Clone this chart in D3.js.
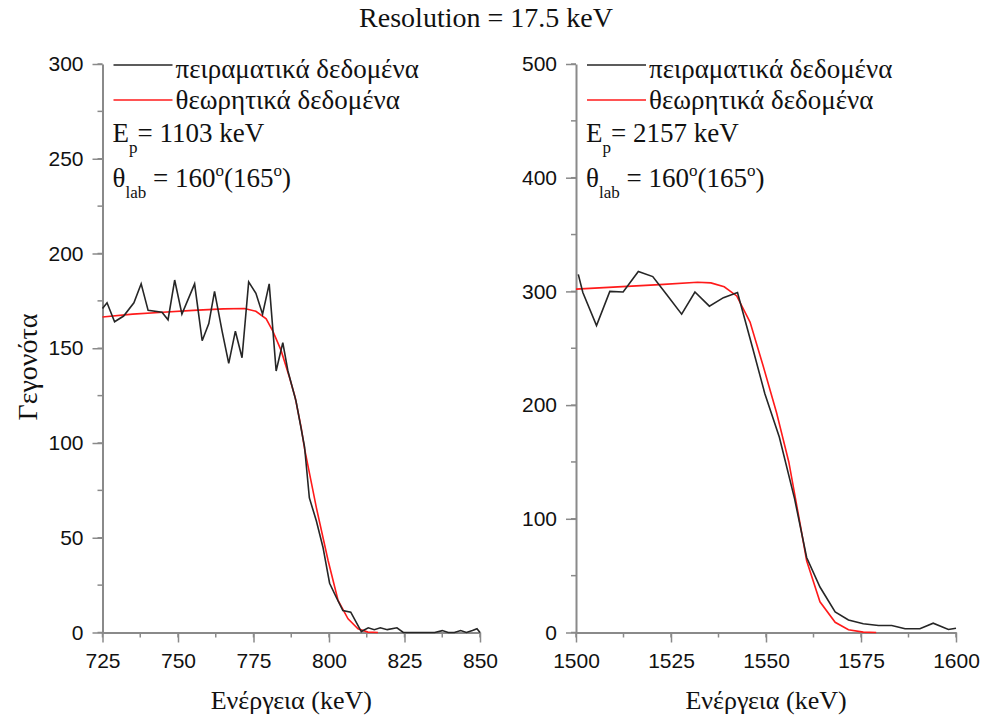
<!DOCTYPE html>
<html><head><meta charset="utf-8">
<script src="https://cdn.jsdelivr.net/npm/d3@7"></script>
<style>
body{margin:0;background:#fff;}
</style></head>
<body><svg id="c" width="983" height="720"></svg>
<script>
// ---- Left panel (Ep = 1103 keV) ----
const leftExpE = [725,726.5,729,732,735.4,737.8,740.1,744.7,746.7,748.9,751.3,755.5,758,760.2,762.1,764.6,766.8,769,771.2,773.4,775.8,778,780.2,782.5,784.7,786.4,789.1,791.9,793.5,795.8,798,800.2,802.4,804.6,807.2,810.7,813,815,817,819.3,822.5,824.6,826.8,829,831,835,837.5,839.5,841.5,843.6,845.5,847.5,849,850];
const leftExpC = [171,174,164,167,174,184,170,169,165,186,168,184,154,163,180,159,142,159,145,185,179,168,184,138,153,138,122,98,71,59,45,26,18.6,11.6,10.7,0.5,2.5,1.5,2.5,1.5,2.5,0,0,0,0,0,1,0,0,1,0,1,2,0];
const leftThE = [725,735,745,755,765,772,775.8,779.2,781.4,784.1,786.9,788.8,790.8,791.9,795.8,799.7,803,806.3,809.6,812.9,816.2];
const leftThC = [166.5,168,169,170,170.8,171,169.5,165.5,159,149,134.7,124,108,97,66,38,16.9,7.2,2,0.2,0];
const leftXTicks = [725,750,775,800,825,850];
const leftYTicks = [0,50,100,150,200,250,300];

// ---- Right panel (Ep = 2157 keV) ----
const rightExpE = [1500.6,1501.8,1505.4,1508.9,1512.4,1516.4,1520.2,1523.9,1527.8,1531.3,1535.1,1538.8,1542.5,1546.5,1549.7,1553.5,1557.5,1560.7,1564.2,1568.2,1571.7,1575.6,1579.6,1583.1,1586.6,1590.5,1594,1598,1600];
const rightExpC = [315,299,270,300,299.5,317.5,313,297,280,299.5,287,294.5,299,250,210,172,118,66,40,18,11,7.7,6.2,6.2,3.3,3.3,8.2,2.6,3.8];
const rightThE = [1500,1511,1522,1532,1535.5,1539,1542.3,1545.8,1549.2,1552.8,1556,1559,1560.7,1564.2,1568.2,1571.7,1575.6,1579];
const rightThC = [302,304,306,308,307.5,304,296,273,235,193,150,95,63,27,9,2.4,0.3,0];
const rightXTicks = [1500,1525,1550,1575,1600];
const rightYTicks = [0,100,200,300,400,500];

const titleText = "Resolution = 17.5 keV";
const xTitle = "Ενέργεια (keV)";
const yTitle = "Γεγονότα";
const legendExp = "πειραματικά δεδομένα";
const legendTh = "θεωρητικά δεδομένα";

const SERIF = "'Liberation Serif', 'Times New Roman', 'DejaVu Serif', serif";
const SANS = "'Liberation Sans', Arial, sans-serif";

const svg = d3.select("#c");
const axisColor = "#8a8a8a";
const black = "#262626", red = "#ff1a1a";

function serifText(sel){ return sel.attr("font-family", SERIF).attr("fill", "#111"); }

function panel(cfg){
  const g = svg.append("g");
  const x = d3.scaleLinear().domain(cfg.xDomain).range([cfg.x0, cfg.x1]);
  const y = d3.scaleLinear().domain(cfg.yDomain).range([cfg.y0, cfg.y1]);
  const xMinor = d3.range(cfg.xDomain[0], cfg.xDomain[1] + 0.01, cfg.xMinorStep);
  const yMinor = d3.range(cfg.yDomain[0], cfg.yDomain[1] + 0.01, cfg.yMinorStep);
  g.selectAll(".xm").data(xMinor).join("line")
    .attr("x1", d => x(d)).attr("x2", d => x(d))
    .attr("y1", cfg.y0).attr("y2", cfg.y0 + 5)
    .attr("stroke", axisColor).attr("stroke-width", 1.5);
  g.selectAll(".ym").data(yMinor).join("line")
    .attr("x1", cfg.x0 - 5).attr("x2", cfg.x0)
    .attr("y1", d => y(d)).attr("y2", d => y(d))
    .attr("stroke", axisColor).attr("stroke-width", 1.5);

  const xa = g.append("g").attr("transform", `translate(0,${cfg.y0})`)
    .call(d3.axisBottom(x).tickValues(cfg.xTicks).tickSize(10).tickPadding(11).tickSizeOuter(0).tickFormat(d3.format("d")));
  const ya = g.append("g").attr("transform", `translate(${cfg.x0},0)`)
    .call(d3.axisLeft(y).tickValues(cfg.yTicks).tickSize(10).tickPadding(9).tickSizeOuter(0).tickFormat(d3.format("d")));
  [xa, ya].forEach(a => {
    a.attr("font-family", SANS).attr("font-size", 21);
    a.select(".domain").attr("stroke", axisColor).attr("stroke-width", 2);
    a.selectAll(".tick line").attr("stroke", axisColor).attr("stroke-width", 1.5);
    a.selectAll(".tick text").attr("fill", "#111");
  });

  const line = d3.line().x(d => x(d[0])).y(d => y(d[1]));
  g.append("path").datum(d3.zip(cfg.thE, cfg.thC)).attr("d", line)
    .attr("fill", "none").attr("stroke", red).attr("stroke-width", 1.6);
  g.append("path").datum(d3.zip(cfg.expE, cfg.expC)).attr("d", line)
    .attr("fill", "none").attr("stroke", black).attr("stroke-width", 1.6);

  // legend
  const lx = cfg.x0 + 11;
  g.append("line").attr("x1", lx).attr("x2", lx + 59).attr("y1", 65).attr("y2", 65)
    .attr("stroke", black).attr("stroke-width", 1.6);
  serifText(g.append("text")).attr("x", lx + 62).attr("y", 78)
    .attr("font-size", 27).text(legendExp);
  g.append("line").attr("x1", lx).attr("x2", lx + 59).attr("y1", 100).attr("y2", 100)
    .attr("stroke", red).attr("stroke-width", 1.6);
  serifText(g.append("text")).attr("x", lx + 62).attr("y", 109)
    .attr("font-size", 27).text(legendTh);

  const t1 = serifText(g.append("text")).attr("x", cfg.x0 + 10).attr("y", 142).attr("font-size", 27);
  t1.append("tspan").text("E");
  t1.append("tspan").attr("font-size", 17).attr("dy", 11).text("p");
  t1.append("tspan").attr("dy", -11).text("= " + cfg.ep + " keV");

  const t2 = serifText(g.append("text")).attr("x", cfg.x0 + 10).attr("y", 187).attr("font-size", 27);
  t2.append("tspan").text("θ");
  t2.append("tspan").attr("font-size", 17).attr("dy", 11).text("lab");
  t2.append("tspan").attr("dy", -11).text(" = 160");
  t2.append("tspan").attr("font-size", 17).attr("dy", -11).text("o");
  t2.append("tspan").attr("dy", 11).text("(165");
  t2.append("tspan").attr("font-size", 17).attr("dy", -11).text("o");
  t2.append("tspan").attr("dy", 11).text(")");

  serifText(g.append("text")).attr("x", (cfg.x0 + cfg.x1)/2).attr("y", 709)
    .attr("text-anchor","middle").attr("font-size", 26).text(xTitle);
  return g;
}

panel({xDomain:[725,850], yDomain:[0,300], x0:102.5, x1:480, y0:632.5, y1:64,
  xTicks:leftXTicks, yTicks:leftYTicks, xMinorStep:12.5, yMinorStep:25,
  expE:leftExpE, expC:leftExpC, thE:leftThE, thC:leftThC, ep:1103});
panel({xDomain:[1500,1600], yDomain:[0,500], x0:576, x1:956, y0:632.5, y1:64,
  xTicks:rightXTicks, yTicks:rightYTicks, xMinorStep:12.5, yMinorStep:50,
  expE:rightExpE, expC:rightExpC, thE:rightThE, thC:rightThC, ep:2157});

serifText(svg.append("text")).attr("x", 486).attr("y", 27)
  .attr("text-anchor","middle").attr("font-size", 28).text(titleText);
serifText(svg.append("text"))
  .attr("transform","translate(37,367) rotate(-90)")
  .attr("text-anchor","middle").attr("font-size", 28).text(yTitle);
</script></body></html>
